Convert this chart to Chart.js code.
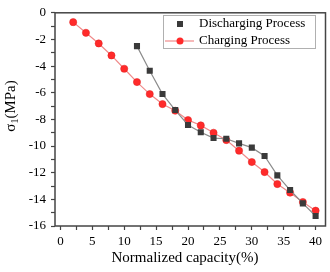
<!DOCTYPE html>
<html>
<head>
<meta charset="utf-8">
<script src="https://cdn.jsdelivr.net/npm/chart.js@4.4.1/dist/chart.umd.min.js"></script>
<style>
  html, body { margin: 0; padding: 0; background: #fff; }
  #wrap { width: 330px; height: 272px; }
</style>
</head>
<body>
<div id="wrap"><canvas id="stressChart" width="330" height="272"></canvas></div>
<script>
// values
const chargingCapacity = [2, 4, 6, 8, 10, 12, 14, 16, 18, 20, 22, 24, 26, 28, 30, 32, 34, 36, 38, 40];
const chargingStress = [-0.7, -1.5, -2.3, -3.2, -4.2, -5.2, -6.1, -6.85, -7.35, -8.05, -8.45, -9.0, -9.55, -10.35, -11.2, -11.95, -12.85, -13.5, -14.2, -14.85];
const dischargingCapacity = [12, 14, 16, 18, 20, 22, 24, 26, 28, 30, 32, 34, 36, 38, 40];
const dischargingStress = [-2.5, -4.35, -6.1, -7.3, -8.42, -8.97, -9.4, -9.45, -9.8, -10.12, -10.75, -12.2, -13.3, -14.3, -15.25];
const xTicks = [0, 2.5, 5, 7.5, 10, 12.5, 15, 17.5, 20, 22.5, 25, 27.5, 30, 32.5, 35, 37.5, 40];
const yTicks = [-16, -15, -14, -13, -12, -11, -10, -9, -8, -7, -6, -5, -4, -3, -2, -1, 0];

const serif = "'Liberation Serif', 'Times New Roman', serif";
const axisColour = "#444444";

function toPoints(xs, ys) {
    return xs.map((x, i) => ({ x: x, y: ys[i] }));
}

// frame, axis titles and the boxed legend
const decorPlugin = {
    id: "decor",
    afterDraw(chart) {
        const { ctx, chartArea: a } = chart;
        ctx.save();
        ctx.strokeStyle = axisColour;
        ctx.lineWidth = 1.5;
        ctx.strokeRect(a.left, a.top, a.right - a.left, a.bottom - a.top);

        // x title
        ctx.fillStyle = "#000";
        ctx.font = "15px " + serif;
        ctx.textAlign = "center";
        ctx.textBaseline = "middle";
        ctx.fillText("Normalized capacity(%)", 185, 258);

        // y title with subscript
        ctx.save();
        ctx.translate(11, 106);
        ctx.rotate(-Math.PI / 2);
        ctx.textAlign = "left";
        ctx.textBaseline = "middle";
        const sigma = "σ", rest = "(MPa)";
        ctx.font = "10px " + serif;
        const subW = ctx.measureText("1").width;
        ctx.font = "15px " + serif;
        const total = ctx.measureText(sigma).width + subW + ctx.measureText(rest).width;
        let x = -total / 2;
        ctx.fillText(sigma, x, 0);
        x += ctx.measureText(sigma).width;
        ctx.font = "10px " + serif;
        ctx.fillText("1", x, 4);
        x += subW;
        ctx.font = "15px " + serif;
        ctx.fillText(rest, x, 0);
        ctx.restore();

        // legend
        ctx.fillStyle = "#fff";
        ctx.fillRect(163, 15, 153, 33);
        ctx.strokeStyle = "#b0b0b0";
        ctx.lineWidth = 1;
        ctx.strokeRect(163.5, 15.5, 152, 33);
        const ds = chart.data.datasets;
        // discharging: marker only
        ctx.fillStyle = ds[0].pointBackgroundColor;
        ctx.fillRect(177, 21, 6, 6);
        // charging: line + marker
        ctx.strokeStyle = ds[1].borderColor;
        ctx.lineWidth = 1.2;
        ctx.beginPath();
        ctx.moveTo(165, 41);
        ctx.lineTo(194, 41);
        ctx.stroke();
        ctx.fillStyle = ds[1].pointBackgroundColor;
        ctx.beginPath();
        ctx.arc(180, 41, 3.5, 0, Math.PI * 2);
        ctx.fill();
        ctx.fillStyle = "#000";
        ctx.font = "13px " + serif;
        ctx.textAlign = "left";
        ctx.textBaseline = "middle";
        ctx.fillText(ds[0].label, 199, 24);
        ctx.fillText(ds[1].label, 199, 41);
        ctx.restore();
    }
};

const ctx = document.getElementById("stressChart").getContext("2d");
new Chart(ctx, {
    type: "line",
    data: {
        datasets: [{
            label: "Discharging Process",
            data: toPoints(dischargingCapacity, dischargingStress),
            showLine: true,
            borderColor: "#8c8c8c",
            borderWidth: 1.2,
            pointStyle: "rect",
            pointRadius: 4.3,
            pointBackgroundColor: "#3a3a3a",
            pointBorderColor: "#3a3a3a",
            pointBorderWidth: 0,
            tension: 0
        }, {
            label: "Charging Process",
            data: toPoints(chargingCapacity, chargingStress),
            showLine: true,
            borderColor: "#f08a8a",
            borderWidth: 1.2,
            pointStyle: "circle",
            pointRadius: 3.6,
            pointBackgroundColor: "#ff2a2a",
            pointBorderColor: "#e02020",
            pointBorderWidth: 0.5,
            tension: 0
        }]
    },
    options: {
        responsive: false,
        animation: false,
        layout: { padding: { top: 5, right: 1, left: 0, bottom: 0 } },
        plugins: {
            legend: { display: false },
            tooltip: { enabled: false }
        },
        scales: {
            x: {
                type: "linear",
                min: -0.85,
                max: 41.55,
                afterBuildTicks: axis => { axis.ticks = xTicks.map(v => ({ value: v })); },
                afterFit: axis => { axis.height = 46; },
                border: { display: false },
                grid: { drawOnChartArea: false, drawTicks: true, tickLength: 4, tickColor: axisColour, tickWidth: 1.2 },
                ticks: {
                    autoSkip: false,
                    maxRotation: 0,
                    padding: 4,
                    color: "#000",
                    font: { family: serif, size: 13 },
                    callback: v => (v % 5 === 0 ? String(v) : "")
                }
            },
            y: {
                type: "linear",
                min: -16,
                max: 0,
                afterBuildTicks: axis => { axis.ticks = yTicks.map(v => ({ value: v })); },
                afterFit: axis => { axis.width = 55; },
                border: { display: false },
                grid: { drawOnChartArea: false, drawTicks: true, tickLength: 4, tickColor: axisColour, tickWidth: 1.2 },
                ticks: {
                    autoSkip: false,
                    padding: 5,
                    color: "#000",
                    font: { family: serif, size: 13 },
                    callback: v => (v % 2 === 0 ? String(v) : "")
                }
            }
        }
    },
    plugins: [decorPlugin]
});
</script>
</body>
</html>
